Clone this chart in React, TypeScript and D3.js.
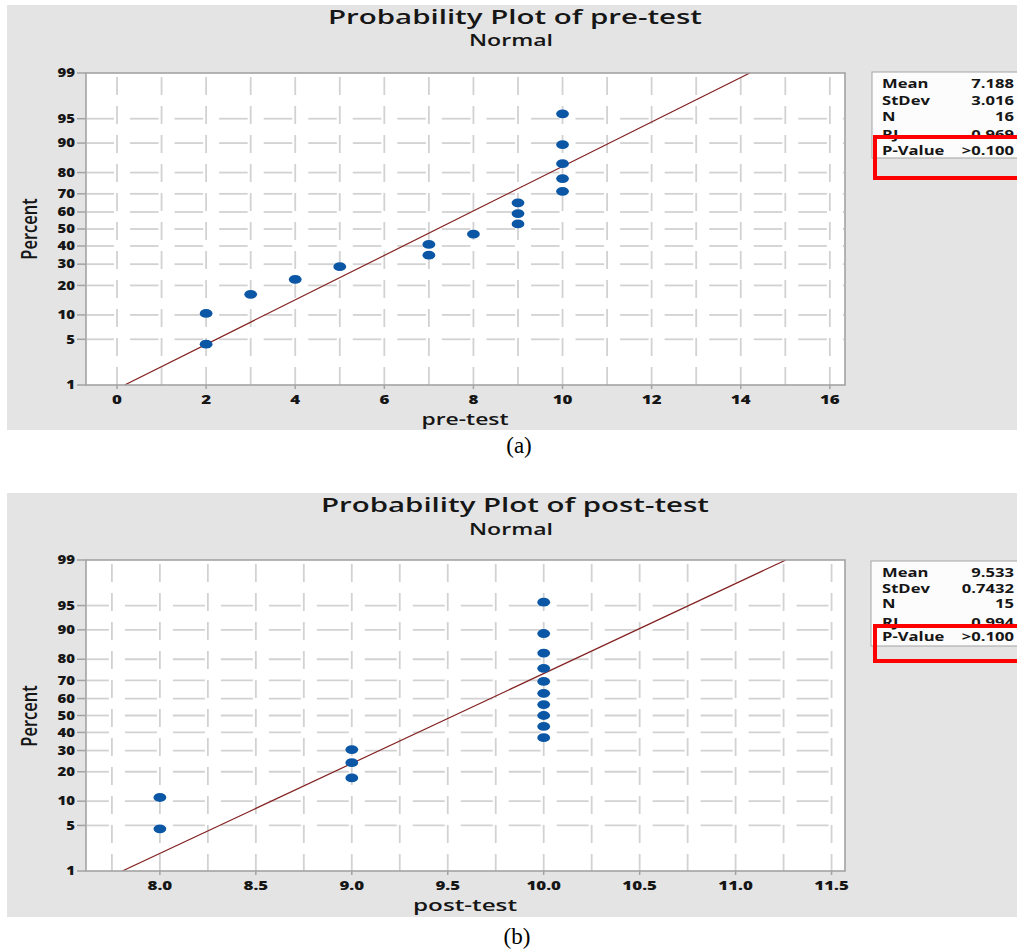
import React from 'react';
import * as d3 from 'd3';

// ---------- data ----------
const percentTicks = [1, 5, 10, 20, 30, 40, 50, 60, 70, 80, 90, 95, 99];
const gridPercents = [5, 10, 20, 30, 40, 50, 60, 70, 80, 90, 95];

const preValues = [2, 2, 3, 4, 5, 7, 7, 8, 9, 9, 9, 10, 10, 10, 10, 10];
const prePercents = [4.3, 10.4, 16.5, 22.6, 28.7, 34.8, 40.9, 47.0, 53.0, 59.1, 65.2, 71.3, 77.4, 83.5, 89.6, 95.7];
const preXTicks = [0, 2, 4, 6, 8, 10, 12, 14, 16];
const preXGrid = [0, 1, 2, 3, 4, 5, 6, 7, 8, 9, 10, 11, 12, 13, 14, 15, 16];
const preMean = 7.188;
const preSd = 3.016;
const preLegendLabels = ['Mean', 'StDev', 'N', 'RJ', 'P-Value'];
const preLegendValues = ['7.188', '3.016', '16', '0.969', '>0.100'];

const postValues = [8, 8, 9, 9, 9, 10, 10, 10, 10, 10, 10, 10, 10, 10, 10];
const postPercents = [4.5, 11.0, 17.5, 24.0, 30.5, 37.0, 43.5, 50.0, 56.5, 63.0, 69.5, 76.0, 82.5, 89.0, 95.5];
const postXTicks = [8.0, 8.5, 9.0, 9.5, 10.0, 10.5, 11.0, 11.5];
const postXGrid = [7.75, 8.0, 8.25, 8.5, 8.75, 9.0, 9.25, 9.5, 9.75, 10.0, 10.25, 10.5, 10.75, 11.0, 11.25, 11.5];
const postMean = 9.533;
const postSd = 0.7432;
const postLegendLabels = ['Mean', 'StDev', 'N', 'RJ', 'P-Value'];
const postLegendValues = ['9.533', '0.7432', '15', '0.994', '>0.100'];

// ---------- helpers ----------
function qnorm(p: number): number {
  const a = [-3.969683028665376e1, 2.209460984245205e2, -2.759285104469687e2, 1.38357751867269e2, -3.066479806614716e1, 2.506628277459239];
  const b = [-5.447609879822406e1, 1.615858368580409e2, -1.556989798598866e2, 6.680131188771972e1, -1.328068155288572e1];
  const c = [-7.784894002430293e-3, -3.223964580411365e-1, -2.400758277161838, -2.549732539343734, 4.374664141464968, 2.938163982698783];
  const d = [7.784695709041462e-3, 3.224671290700398e-1, 2.445134137142996, 3.754408661907416];
  const pl = 0.02425;
  if (p < pl) {
    const q = Math.sqrt(-2 * Math.log(p));
    return (((((c[0] * q + c[1]) * q + c[2]) * q + c[3]) * q + c[4]) * q + c[5]) / ((((d[0] * q + d[1]) * q + d[2]) * q + d[3]) * q + 1);
  }
  if (p > 1 - pl) {
    const q = Math.sqrt(-2 * Math.log(1 - p));
    return -(((((c[0] * q + c[1]) * q + c[2]) * q + c[3]) * q + c[4]) * q + c[5]) / ((((d[0] * q + d[1]) * q + d[2]) * q + d[3]) * q + 1);
  }
  const q = p - 0.5;
  const r = q * q;
  return ((((((a[0] * r + a[1]) * r + a[2]) * r + a[3]) * r + a[4]) * r + a[5]) * q) / (((((b[0] * r + b[1]) * r + b[2]) * r + b[3]) * r + b[4]) * r + 1);
}

const SANS = "'Open Sans', 'Noto Sans', sans-serif";
const SERIF = "'Liberation Serif', 'DejaVu Serif', serif";
const INK = '#161616';

function T(props: any) {
  const { x, y, children, size, weight = 700, anchor = 'start', sx = 1, family = SANS, fill = INK, rotate = 0, len } = props;
  const tf = rotate
    ? `translate(${x},${y}) rotate(${rotate}) scale(1,${sx})`
    : `translate(${x},${y}) scale(${sx},1)`;
  return (
    <text
      transform={tf}
      fontSize={size}
      fontWeight={weight}
      textAnchor={anchor}
      fontFamily={family}
      fill={fill}
      textLength={len}
      lengthAdjust={len ? 'spacingAndGlyphs' : undefined}
    >
      {children}
    </text>
  );
}

const LEFT = 86;
const RIGHT = 845;

function Panel(cfg: any) {
  const x = d3.scaleLinear().domain(cfg.xDomain).range([LEFT, RIGHT]);
  const zs = d3.scaleLinear().domain([qnorm(0.01), qnorm(0.99)]).range([cfg.plotBottom, cfg.plotTop]);
  const y = (p: number) => zs(qnorm(p / 100));
  const gridPx = cfg.xGrid.map((v: number) => x(v));
  const spacing = gridPx[1] - gridPx[0];

  // horizontal grid dashes: gaps around vertical grid lines
  const hSegs: [number, number][] = [];
  const starts = [gridPx[0] - spacing, ...gridPx];
  starts.forEach((v: number, i: number) => {
    const next = i < gridPx.length ? gridPx[i] : v + spacing;
    const s = Math.max(LEFT + 1, v + 13);
    const e = Math.min(RIGHT - 1, next - 3);
    if (e > s) hSegs.push([s, e]);
  });

  const fitLine = d3.line<number>()
    .x((p) => x(cfg.mean + cfg.sd * qnorm(p / 100)))
    .y((p) => y(p));

  const clipId = `clip-${cfg.id}`;
  const legendW = 160;

  return (
    <g>
      <rect x={7} y={cfg.bgTop} width={1017 - 7} height={cfg.bgBottom - cfg.bgTop} fill="#e4e4e4" />
      <T x={515} y={cfg.titleY} size={19} weight={600} anchor="middle" len={cfg.titleLen}>{cfg.title}</T>
      <T x={511} y={cfg.normalY} size={15.5} weight={600} anchor="middle" len={84}>Normal</T>

      <defs>
        <clipPath id={clipId}>
          <rect x={LEFT} y={cfg.plotTop} width={RIGHT - LEFT} height={cfg.plotBottom - cfg.plotTop} />
        </clipPath>
      </defs>
      <rect x={LEFT} y={cfg.plotTop} width={RIGHT - LEFT} height={cfg.plotBottom - cfg.plotTop} fill="#ffffff" />

      {/* vertical grid */}
      {gridPx.map((px: number, i: number) => (
        <line key={'v' + i} x1={px} x2={px} y1={cfg.plotTop} y2={cfg.plotBottom}
          stroke="#d2d2d2" strokeWidth={1.8} strokeDasharray="18 11" strokeDashoffset={25} />
      ))}
      {/* horizontal grid */}
      {gridPercents.map((p) => (
        <g key={'h' + p}>
          {hSegs.map(([s, e], j) => (
            <line key={j} x1={s} x2={e} y1={y(p)} y2={y(p)} stroke="#d2d2d2" strokeWidth={1.8} />
          ))}
        </g>
      ))}

      {/* fit line */}
      <path d={fitLine([1, 99]) || ''} fill="none" stroke="#842222" strokeWidth={1.2} clipPath={`url(#${clipId})`} />

      {/* points */}
      {cfg.values.map((v: number, i: number) => (
        <ellipse key={'pt' + i} cx={x(v)} cy={y(cfg.percents[i])} rx={6.4} ry={4.4} fill="#0b57a5" />
      ))}

      {/* frame */}
      <rect x={LEFT} y={cfg.plotTop} width={RIGHT - LEFT} height={cfg.plotBottom - cfg.plotTop} fill="none" stroke="#a3a3a3" strokeWidth={1.6} />

      {/* y ticks */}
      {percentTicks.map((p) => (
        <g key={'yt' + p}>
          <line x1={77} x2={LEFT} y1={y(p)} y2={y(p)} stroke="#a3a3a3" strokeWidth={1.5} />
          <T x={75} y={y(p) + 4.2} size={11.5} weight={800} anchor="end" sx={1.3}>{String(p)}</T>
        </g>
      ))}

      {/* x ticks */}
      {cfg.xTicks.map((v: number) => (
        <g key={'xt' + v}>
          <line x1={x(v)} x2={x(v)} y1={cfg.plotBottom} y2={cfg.plotBottom + 4} stroke="#a3a3a3" strokeWidth={1.5} />
          <T x={x(v)} y={cfg.tickLabelY} size={13} weight={800} anchor="middle" sx={1.3}>{cfg.tickFmt(v)}</T>
        </g>
      ))}

      <T x={465} y={cfg.xLabelY} size={16} weight={600} anchor="middle" len={cfg.xLabelLen}>{cfg.xLabel}</T>
      <T x={37} y={cfg.percentY} size={16.5} weight={600} anchor="middle" rotate={-90} sx={1.35}>Percent</T>

      {/* legend */}
      <rect x={cfg.legendX} y={cfg.legendTop} width={legendW} height={cfg.legendBottom - cfg.legendTop} fill="#fcfcfc" stroke="#a3a3a3" strokeWidth={1} />
      {cfg.legendLabels.map((lab: string, i: number) => (
        <g key={'lg' + i}>
          <T x={882} y={cfg.legendRows[i]} size={11.7} sx={1.42}>{lab}</T>
          <T x={1014} y={cfg.legendRows[i]} size={11.7} sx={1.42} anchor="end">{cfg.legendValues[i]}</T>
        </g>
      ))}
      <rect x={875} y={cfg.redTop} width={160} height={cfg.redBottom - cfg.redTop} fill="none" stroke="#ff0000" strokeWidth={4} />

      <T x={cfg.captionX} y={cfg.captionY} size={23} weight={400} anchor="middle" family={SERIF} fill="#000">{cfg.caption}</T>
    </g>
  );
}

export default function App() {
  const panelA = {
    id: 'a',
    bgTop: 5, bgBottom: 430,
    title: 'Probability Plot of pre-test', titleY: 24, titleLen: 374,
    normalY: 46,
    plotTop: 73, plotBottom: 385,
    xDomain: [-0.696, 16.34], xTicks: preXTicks, xGrid: preXGrid,
    tickFmt: (v: number) => String(v), tickLabelY: 404,
    xLabel: 'pre-test', xLabelY: 425, xLabelLen: 87,
    percentY: 229,
    values: preValues, percents: prePercents, mean: preMean, sd: preSd,
    legendX: 872, legendTop: 72, legendBottom: 158,
    legendRows: [88, 104.5, 121, 139, 154.5],
    legendLabels: preLegendLabels, legendValues: preLegendValues,
    redTop: 137, redBottom: 178,
    caption: '(a)', captionX: 519, captionY: 453,
  };
  const panelB = {
    id: 'b',
    bgTop: 493, bgBottom: 917,
    title: 'Probability Plot of post-test', titleY: 512, titleLen: 388,
    normalY: 535,
    plotTop: 560, plotBottom: 871,
    xDomain: [7.615, 11.57], xTicks: postXTicks, xGrid: postXGrid,
    tickFmt: (v: number) => v.toFixed(1), tickLabelY: 890,
    xLabel: 'post-test', xLabelY: 911, xLabelLen: 104,
    percentY: 716,
    values: postValues, percents: postPercents, mean: postMean, sd: postSd,
    legendX: 871, legendTop: 561, legendBottom: 646,
    legendRows: [577, 592.5, 608, 627, 641],
    legendLabels: postLegendLabels, legendValues: postLegendValues,
    redTop: 626, redBottom: 661,
    caption: '(b)', captionX: 517, captionY: 944,
  };
  return (
    <svg width={1017} height={950} style={{ position: 'absolute', left: 0, top: 0, background: '#ffffff' }}>
      <Panel {...panelA} />
      <Panel {...panelB} />
    </svg>
  );
}
